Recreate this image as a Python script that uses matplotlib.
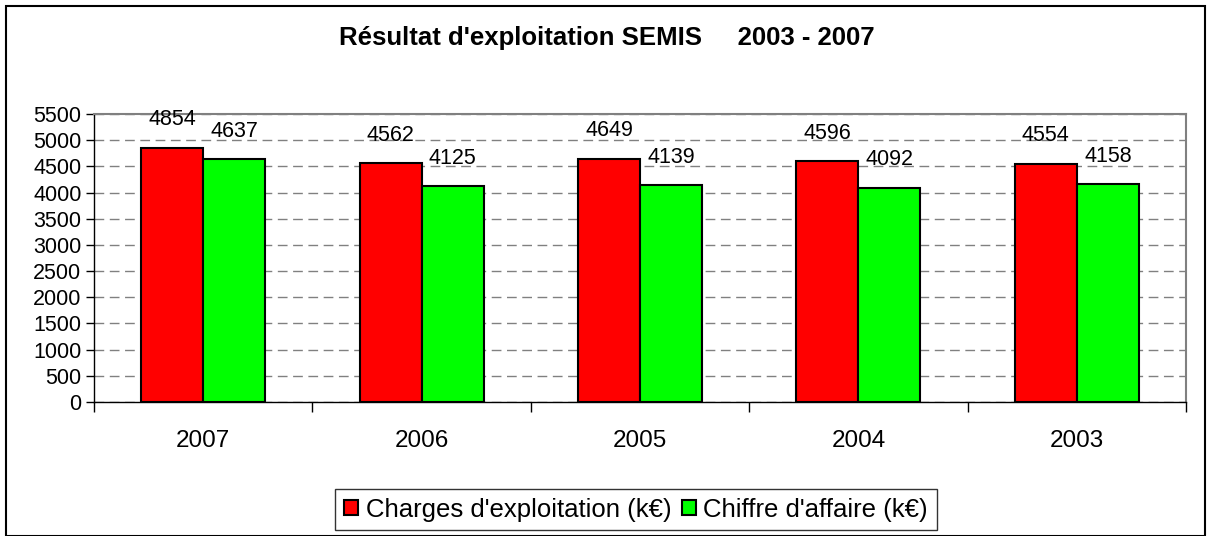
import numpy as np
import matplotlib
matplotlib.use('Agg')
from matplotlib import pyplot as plt
from matplotlib.patches import Rectangle

plt.rcParams['font.family'] = ['Liberation Sans', 'DejaVu Sans']

years = ['2007', '2006', '2005', '2004', '2003']
charges = [4854, 4562, 4649, 4596, 4554]
chiffre = [4637, 4125, 4139, 4092, 4158]
y_ticks = list(range(0, 5501, 500))

fig = plt.figure(figsize=(12.07, 5.36), dpi=100)
ax = fig.add_axes([94 / 1207, 1 - 402 / 536, (1186 - 94) / 1207, (402 - 114) / 536])

x = np.arange(len(years))
w = 0.284
b1 = ax.bar(x - w / 2, charges, w, color='#ff0000', edgecolor='black', linewidth=1.5,
            label="Charges d'exploitation (k€)", zorder=3)
b2 = ax.bar(x + w / 2, chiffre, w, color='#00ff00', edgecolor='black', linewidth=1.5,
            label="Chiffre d'affaire (k€)", zorder=3)

for bars, vals in [(b1, charges), (b2, chiffre)]:
    for rect, v in zip(bars, vals):
        ax.annotate(str(v), (rect.get_x() + rect.get_width() / 2, rect.get_height()),
                    xytext=(0, 12.5), textcoords='offset points',
                    ha='center', va='bottom', fontsize=15.5)

ax.set_xlim(-0.5, len(years) - 0.5)
ax.set_ylim(0, 5500)
ax.set_yticks(y_ticks)
ax.tick_params(axis='y', labelsize=15.5, length=6, width=1, pad=3)
ax.yaxis.grid(True, linestyle=(0, (7, 4)), color='#808080', linewidth=1, zorder=0)

# category labels at centers, tick marks at boundaries
ax.set_xticks(x)
ax.set_xticklabels(years, fontsize=17.5)
ax.set_xticks(np.arange(-0.5, len(years)), minor=True)
ax.tick_params(axis='x', which='major', length=0, pad=20)
ax.tick_params(axis='x', which='minor', length=7, width=1, direction='out')

for s in ['left', 'bottom']:
    ax.spines[s].set_color('black')
    ax.spines[s].set_linewidth(1)
for s in ['top', 'right']:
    ax.spines[s].set_color('#808080')
    ax.spines[s].set_linewidth(1.5)

fig.text(607 / 1207, 1 - 38 / 536, "Résultat d'exploitation SEMIS     2003 - 2007",
         ha='center', va='center', fontsize=18.5, fontweight='bold')

leg = fig.legend(handles=[b1, b2], loc='center', bbox_to_anchor=(636 / 1207, 1 - 509.5 / 536),
                 ncol=2, fontsize=18.5, frameon=True, fancybox=False, edgecolor='black',
                 handlelength=0.55, handleheight=0.55, handletextpad=0.3, columnspacing=0.4,
                 borderpad=0.35, borderaxespad=0)
leg.get_frame().set_linewidth(1)

fig.patches.append(Rectangle((6 / 1207, 0.5 / 536), 1199 / 1207, 529.5 / 536,
                             transform=fig.transFigure, fill=False,
                             edgecolor='black', linewidth=1.5))

fig.savefig('out.png', dpi=100)
